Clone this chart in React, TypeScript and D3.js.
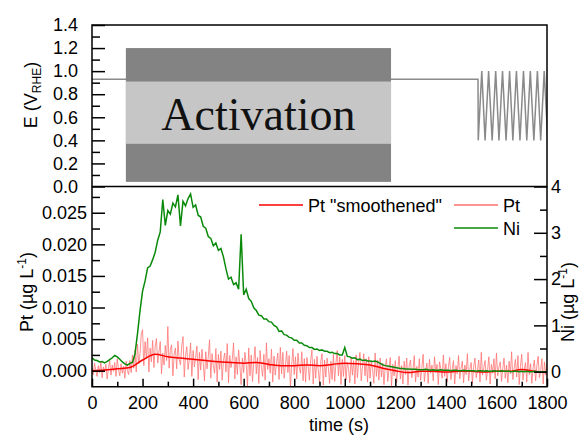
import React, { useEffect, useRef } from "react";
import * as d3 from "d3";

// time axis (s)
const timeTicks = [0, 200, 400, 600, 800, 1000, 1200, 1400, 1600, 1800];
const timeMinor = [100, 300, 500, 700, 900, 1100, 1300, 1500, 1700];

// potential program, top panel (V vs RHE)
const eTicks = [0, 0.2, 0.4, 0.6, 0.8, 1.0, 1.2, 1.4];
const eMinor = [0.1, 0.3, 0.5, 0.7, 0.9, 1.1, 1.3];
const eTimes = [0, 1527, 1528, 1542, 1555, 1569, 1583, 1597, 1610, 1624, 1638, 1652, 1665, 1679, 1693, 1707, 1720, 1734, 1748, 1762, 1775, 1789, 1803];
const eValues = [0.93, 0.93, 0.4, 1.0, 0.4, 1.0, 0.4, 1.0, 0.4, 1.0, 0.4, 1.0, 0.4, 1.0, 0.4, 1.0, 0.4, 1.0, 0.4, 1.0, 0.4, 1.0, 0.4];

// activation block
const activationTimes = [134, 1183];
const activationOuter = [0.04, 1.2];
const activationInner = [0.37, 0.91];

// Pt left axis (ug/L)
const ptTicks = [0, 0.005, 0.01, 0.015, 0.02, 0.025];
const ptMinor = [0.0025, 0.0075, 0.0125, 0.0175, 0.0225, 0.0275];
// Ni right axis (ug/L)
const niTicks = [0, 1, 2, 3, 4];
const niMinor = [0.5, 1.5, 2.5, 3.5];

// raw Pt signal, every 5 s, in ng/L
const ptRawStep = 5;
const ptRawNg = [
  0.5, -0.6, 1.2, 0.1, -0.9, 0.8, -0.3, 1.4, -1.1, 0.6,
  -0.2, 1.0, -1.3, 0.4, 1.6, -0.7, 0.9, -0.1, 1.3, -0.9,
  1.9, 0.2, -0.8, 1.1, -0.4, 0.7, -1.2, 1.5, 0.0, -0.6,
  1.6, -0.3, 2.5, 0.4, 3.3, -0.2, 4.2, 1.1, 2.7, 5.8,
  6.5, 0.8, 4.6, 1.9, 5.2, -0.2, 3.6, 1.4, 4.8, 0.5,
  3.9, 5.1, 1.2, 3.0, 4.6, -0.5, 2.8, 0.9, 4.0, 1.6,
  7.0, 0.4, 3.4, 4.1, -0.8, 2.6, 3.6, 0.3, 4.7, 1.8,
  0.9, 3.9, 5.4, -1.0, 2.4, 3.8, 0.2, 1.7, 4.4, -0.9,
  3.2, 0.6, 2.1, 3.9, -1.4, 2.9, 0.1, 3.4, 1.2, -1.6,
  3.0, 0.3, 2.2, 4.9, -1.2, 2.7, 0.8, -0.4, 3.5, -1.8,
  2.6, 0.2, 3.1, -1.5, 1.7, 2.8, -0.2, 4.3, -1.9, 2.4,
  0.5, 1.8, 4.4, -1.3, 2.2, -0.6, 3.3, 0.9, -2.2, 2.0,
  -0.3, 2.9, 1.1, -2.5, 3.6, -0.8, 2.5, -1.7, 1.4, 3.8,
  -0.5, 2.1, -2.0, 3.2, 0.6, -0.9, 2.6, -1.5, 4.4, 0.2,
  1.9, -0.4, 3.4, -1.8, 2.3, -0.7, 1.2, 2.8, -1.4, 3.7,
  -0.5, 2.9, -1.2, 0.8, 3.1, -0.3, 2.4, -2.6, 1.0, 3.5,
  -0.6, 2.2, -1.3, 2.8, 0.4, -0.4, 3.0, -1.6, 1.9, -1.8,
  2.1, 0.7, -1.5, 1.6, 3.3, -2.1, 1.8, -1.2, 2.3, 0.1,
  -1.9, 1.4, 2.7, -2.3, 1.7, -1.0, 2.0, 0.5, -2.0, 1.5,
  -1.4, 2.6, -1.7, 1.2, 3.2, -0.8, 2.2, -2.2, 1.8, -0.9,
  2.4, -1.5, 1.3, 0.3, -1.9, 2.1, -0.7, 1.6, -2.1, 2.5,
  -1.1, 1.4, 2.9, -1.6, 0.6, 2.7, -0.8, 1.9, -1.8, 2.2,
  -1.2, 1.5, 0.2, -2.0, 2.8, -0.9, 1.7, -1.5, 2.0, -1.0,
  1.2, -2.2, 0.6, 1.9, -1.7, 0.3, 2.1, -2.4, 1.0, -0.8,
  1.6, -1.9, 0.4, 2.3, -1.3, 0.8, -2.1, 1.5, -0.6, 2.0,
  -2.3, 0.9, 1.7, -1.1, 0.2, 2.4, -1.8, 0.7, -1.0, 1.9,
  -1.5, 0.5, 2.6, -1.7, 0.1, 1.2, -2.0, 1.8, -0.4, 0.9,
  -1.6, 2.2, -0.3, 1.0, -2.2, 1.4, 0.3, -1.2, 2.5, -0.9,
  1.1, -1.8, 0.6, 2.1, -1.4, 0.2, 1.6, -2.1, 0.8, -0.5,
  2.4, -1.3, 0.4, 1.5, -1.9, 0.9, -0.6, 2.7, -1.6, 0.3,
  1.3, -2.0, 0.7, 2.0, -1.1, 0.1, 1.7, -1.8, 2.9, -0.7,
  0.5, 1.6, -1.5, 0.2, 2.2, -2.1, 1.0, -0.4, 1.9, -1.3,
  2.8, -0.8, 0.6, 1.4, -1.7, 0.3, 2.0, -1.2, 0.9, -1.9,
  1.5, -0.5, 3.0, -1.4, 0.4, 1.8, -1.0, 2.4, -2.2, 0.7,
  2.6, -1.5, 0.2, 1.3, -1.8, 2.9, -0.6, 1.1, -2.0, 0.5,
  1.7, -1.6, 0.8, 2.3, -1.1, 0.0, 1.9, -2.1, 1.4, -0.7,
  1.2,
];

// smoothed Pt, every 50 s, in ng/L
const ptSmoothStep = 50;
const ptSmoothNg = [
  0.0, 0.1, 0.3, 0.5, 1.7, 2.6, 2.2, 2.0, 1.8, 1.6,
  1.4, 1.3, 1.2, 1.3, 1.0, 0.8, 0.8, 0.9, 0.8, 1.0,
  1.2, 1.1, 0.9, 0.4, 0.0, -0.3, -0.1, -0.1, -0.2, -0.1,
  -0.1, -0.2, -0.1, -0.1, 0.2, -0.1, -0.3,
];

// Ni signal, every 10 s, ug/L
const niStep = 10;
const niValues = [
  0.30, 0.25, 0.24, 0.21, 0.22, 0.19, 0.22, 0.26, 0.30, 0.35,
  0.32, 0.27, 0.21, 0.17, 0.14, 0.18, 0.20, 0.38, 0.82, 1.32,
  1.74, 1.96, 2.24, 2.28, 2.42, 2.58, 2.84, 3.02, 3.72, 3.16,
  3.48, 3.40, 3.64, 3.56, 3.82, 3.15, 3.68, 3.58, 3.74, 3.84,
  3.55, 3.60, 3.38, 3.34, 3.14, 3.10, 2.92, 2.88, 2.72, 2.78,
  2.62, 2.66, 2.48, 2.22, 2.00, 2.04, 1.88, 1.92, 1.78, 2.97,
  1.66, 1.78, 1.58, 1.52, 1.38, 1.32, 1.22, 1.21, 1.14, 1.14,
  1.08, 1.07, 1.00, 0.97, 0.87, 0.88, 0.80, 0.79, 0.74, 0.73,
  0.68, 0.68, 0.62, 0.62, 0.57, 0.56, 0.52, 0.52, 0.48, 0.49,
  0.46, 0.47, 0.44, 0.44, 0.41, 0.42, 0.39, 0.39, 0.36, 0.36,
  0.52, 0.33, 0.32, 0.29, 0.30, 0.26, 0.27, 0.24, 0.25, 0.23,
  0.23, 0.22, 0.23, 0.21, 0.18, 0.15, 0.13, 0.12, 0.11, 0.10,
  0.09, 0.08, 0.07, 0.07, 0.06, 0.06, 0.05, 0.05, 0.05, 0.04,
  0.04, 0.04, 0.05, 0.04, 0.03, 0.04, 0.03, 0.03, 0.04, 0.03,
  0.03, 0.03, 0.02, 0.03, 0.03, 0.02, 0.02, 0.03, 0.02, 0.02,
  0.02, 0.02, 0.01, 0.02, 0.02, 0.01, 0.02, 0.01, 0.01, 0.02,
  0.01, 0.01, 0.02, 0.01, 0.01, 0.01, 0.00, 0.01, 0.01, 0.00,
  0.01, 0.00, 0.01, 0.00, 0.00, 0.01, 0.00, 0.00, 0.00, 0.00,
  0.00,
];

const FONT = "'Liberation Sans', Arial, sans-serif";

const App = () => {
  const ref = useRef(null);

  useEffect(() => {
    document.body.style.margin = "0";
    const svg = d3.select(ref.current);
    svg.selectAll("*").remove();

    const W = 580, H = 436;
    const left = 92, right = 547;
    const top = 25, mid = 186.5, bottom = 386.7;

    svg.attr("width", W).attr("height", H).style("display", "block");

    const x = d3.scaleLinear().domain([0, 1800]).range([left, right]);
    const yE = d3.scaleLinear().domain([0, 1.4]).range([mid, top]);
    const yPt = d3.scaleLinear().domain([-0.00253, 0.02915]).range([bottom, mid]);
    const yNi = d3.scaleLinear().domain([-0.325, 4]).range([bottom, mid]);

    const defs = svg.append("defs");
    defs.append("clipPath").attr("id", "clipTop")
      .append("rect").attr("x", left).attr("y", top).attr("width", right - left).attr("height", mid - top);
    defs.append("clipPath").attr("id", "clipBot")
      .append("rect").attr("x", left).attr("y", mid).attr("width", right - left).attr("height", bottom - mid);

    // ---- top panel ----
    const gTop = svg.append("g").attr("clip-path", "url(#clipTop)");
    const eLine = d3.line<number>().x((d, i) => x(eTimes[i])).y((d) => yE(d));
    gTop.append("path").attr("d", eLine(eValues)).attr("fill", "none")
      .attr("stroke", "#8a8a8a").attr("stroke-width", 1.5);

    gTop.append("rect")
      .attr("x", x(activationTimes[0])).attr("width", x(activationTimes[1]) - x(activationTimes[0]))
      .attr("y", yE(activationOuter[1])).attr("height", yE(activationOuter[0]) - yE(activationOuter[1]))
      .attr("fill", "#838383");
    gTop.append("rect")
      .attr("x", x(activationTimes[0])).attr("width", x(activationTimes[1]) - x(activationTimes[0]))
      .attr("y", yE(activationInner[1])).attr("height", yE(activationInner[0]) - yE(activationInner[1]))
      .attr("fill", "#c6c6c6");
    svg.append("text")
      .attr("x", (x(activationTimes[0]) + x(activationTimes[1])) / 2)
      .attr("y", 130)
      .attr("text-anchor", "middle")
      .attr("font-family", "'Liberation Serif', 'Times New Roman', serif")
      .attr("font-size", 46)
      .attr("fill", "#111")
      .text("Activation");

    // ---- bottom panel data ----
    const gBot = svg.append("g").attr("clip-path", "url(#clipBot)");
    const rawLine = d3.line<number>().x((d, i) => x(i * ptRawStep)).y((d) => yPt(d / 1000));
    gBot.append("path").attr("d", rawLine(ptRawNg)).attr("fill", "none")
      .attr("stroke", "#ff7070").attr("stroke-opacity", 0.85).attr("stroke-width", 0.9);
    const smoothLine = d3.line<number>().x((d, i) => x(i * ptSmoothStep)).y((d) => yPt(d / 1000)).curve(d3.curveMonotoneX);
    gBot.append("path").attr("d", smoothLine(ptSmoothNg)).attr("fill", "none")
      .attr("stroke", "#ff0000").attr("stroke-width", 1.5);
    const niLine = d3.line<number>().x((d, i) => x(i * niStep)).y((d) => yNi(d));
    gBot.append("path").attr("d", niLine(niValues)).attr("fill", "none")
      .attr("stroke", "#0a8a0a").attr("stroke-width", 1.5);

    // ---- axes ----
    const styleAxis = (g) => {
      g.select(".domain").remove();
      g.selectAll("line").attr("stroke", "#000").attr("stroke-width", 1.5);
      g.attr("font-family", FONT).attr("font-size", 18);
      g.selectAll("text").attr("fill", "#000");
    };

    const gE = svg.append("g").attr("transform", `translate(${left},0)`);
    gE.call(d3.axisLeft(yE).tickValues(eTicks).tickSize(-13).tickPadding(14).tickFormat(d3.format(".1f")));
    styleAxis(gE);
    const gEm = svg.append("g").attr("transform", `translate(${left},0)`);
    gEm.call(d3.axisLeft(yE).tickValues(eMinor).tickSize(-8).tickFormat(() => ""));
    styleAxis(gEm);

    const gPt = svg.append("g").attr("transform", `translate(${left},0)`);
    gPt.call(d3.axisLeft(yPt).tickValues(ptTicks).tickSize(-13).tickPadding(5).tickFormat(d3.format(".3f")));
    styleAxis(gPt);
    const gPtm = svg.append("g").attr("transform", `translate(${left},0)`);
    gPtm.call(d3.axisLeft(yPt).tickValues(ptMinor).tickSize(-8).tickFormat(() => ""));
    styleAxis(gPtm);

    const gNi = svg.append("g").attr("transform", `translate(${right},0)`);
    gNi.call(d3.axisRight(yNi).tickValues(niTicks).tickSize(-13).tickPadding(4).tickFormat(d3.format("d")));
    styleAxis(gNi);
    const gNim = svg.append("g").attr("transform", `translate(${right},0)`);
    gNim.call(d3.axisRight(yNi).tickValues(niMinor).tickSize(-7).tickFormat(() => ""));
    styleAxis(gNim);

    const gX = svg.append("g").attr("transform", `translate(0,${bottom})`);
    gX.call(d3.axisBottom(x).tickValues(timeTicks).tickSize(-8).tickPadding(10).tickFormat(d3.format("d")));
    styleAxis(gX);
    const gXm = svg.append("g").attr("transform", `translate(0,${bottom})`);
    gXm.call(d3.axisBottom(x).tickValues(timeMinor).tickSize(-5).tickFormat(() => ""));
    styleAxis(gXm);

    // frames
    svg.append("rect").attr("x", left).attr("y", top).attr("width", right - left).attr("height", mid - top)
      .attr("fill", "none").attr("stroke", "#000").attr("stroke-width", 1.5);
    svg.append("path")
      .attr("d", `M${left},${mid}V${bottom}H${right}V${mid}`)
      .attr("fill", "none").attr("stroke", "#000").attr("stroke-width", 1.5);

    // axis titles
    const title = (tx, ty, rot) =>
      svg.append("text").attr("transform", `translate(${tx},${ty}) rotate(${rot})`)
        .attr("text-anchor", "middle").attr("font-family", FONT).attr("font-size", 18).attr("fill", "#000");

    const tE = title(37, 95, -90);
    tE.append("tspan").text("E (V");
    tE.append("tspan").attr("font-size", 12).attr("dy", 4).text("RHE");
    tE.append("tspan").attr("dy", -4).text(")");

    const tPt = title(33, 292, -90);
    tPt.append("tspan").text("Pt (\u00b5g L");
    tPt.append("tspan").attr("font-size", 12).attr("dy", -7).text("-1");
    tPt.append("tspan").attr("dy", 7).text(")");

    const tNi = title(574, 302, -90);
    tNi.append("tspan").text("Ni (\u00b5g L");
    tNi.append("tspan").attr("font-size", 12).attr("dy", -7).text("-1");
    tNi.append("tspan").attr("dy", 7).text(")");

    svg.append("text").attr("x", 339).attr("y", 431).attr("text-anchor", "middle")
      .attr("font-family", FONT).attr("font-size", 18).attr("fill", "#000").text("time (s)");

    // legend
    const legend = [
      { label: 'Pt "smoothened"', color: "#ff0000", x0: 259, y0: 205, w: 1.5 },
      { label: "Pt", color: "#ff7070", x0: 454, y0: 205, w: 1.5 },
      { label: "Ni", color: "#0a8a0a", x0: 454, y0: 228, w: 1.5 },
    ];
    legend.forEach((d) => {
      svg.append("line").attr("x1", d.x0).attr("x2", d.x0 + 44).attr("y1", d.y0).attr("y2", d.y0)
        .attr("stroke", d.color).attr("stroke-width", d.w);
      svg.append("text").attr("x", d.x0 + 49).attr("y", d.y0 + 6.5)
        .attr("font-family", FONT).attr("font-size", 18).attr("fill", "#000").text(d.label);
    });
  }, []);

  return <svg ref={ref}></svg>;
};

export default App;
